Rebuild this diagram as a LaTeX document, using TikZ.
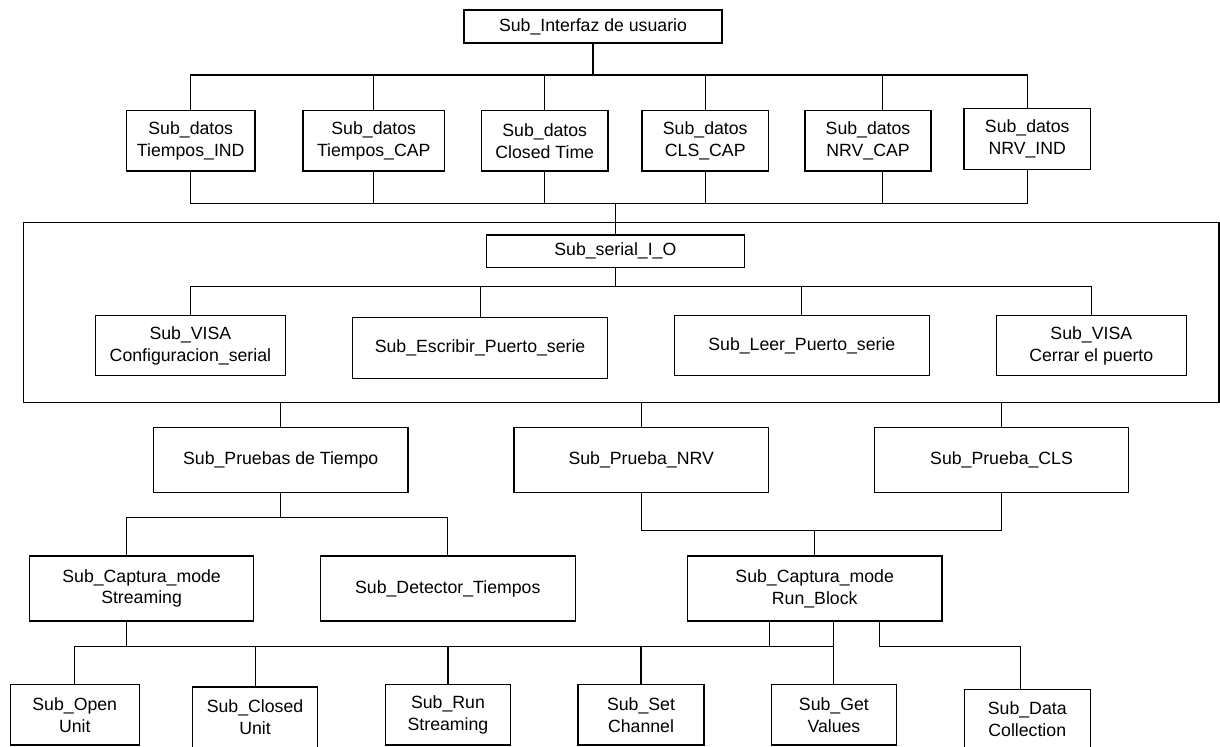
\documentclass[tikz,border=0pt]{standalone}
\usepackage{fontspec}
\setmainfont{Liberation Sans}
% box given by its corner coordinates (pixel units): name, x1, y1, x2, y2, text
\newcommand\pbox[7][]{%
  \pgfmathsetmacro\pbW{(#5-#3)*0.5}%
  \pgfmathsetmacro\pbH{(#6-#4)*0.5}%
  \pgfmathsetmacro\pbX{(#3+#5)/2}%
  \pgfmathsetmacro\pbY{(#4+#6)/2}%
  \node[blk,#1,minimum width=\pbW pt,minimum height=\pbH pt] (#2) at (\pbX,\pbY) {#7};}
\begin{document}
\begin{tikzpicture}[x=0.5pt,y=-0.5pt,
  blk/.style={draw, rectangle, line width=0.55pt, inner sep=0pt, align=center,
              font=\fontsize{8.85}{10.85}\selectfont},
  wire/.style={line width=0.55pt}]
\useasboundingbox (0,0) rectangle (1220,747);
\clip (0,0) rectangle (1220,747);

% ---- blocks ----
\pbox{top}{464}{10}{722}{43}{Sub\_Interfaz de usuario}

\pbox{d1}{126.5}{110.7}{255}{171}{Sub\_datos\\Tiempos\_IND}
\pbox{d2}{303}{110.7}{444.5}{171}{Sub\_datos\\Tiempos\_CAP}
\pbox{d3}{481.5}{110.7}{608}{171}{Sub\_datos\\Closed Time}
\pbox{d4}{642}{110.7}{768.5}{171}{Sub\_datos\\CLS\_CAP}
\pbox{d5}{805}{110.7}{931}{171}{Sub\_datos\\NRV\_CAP}
\pbox{d6}{964}{108.3}{1090.5}{169.3}{Sub\_datos\\NRV\_IND}

\pbox{frame}{23.7}{222.3}{1219}{402.3}{}
\pbox{serial}{486.4}{235}{744.3}{267.3}{Sub\_serial\_I\_O}
\pbox{v1}{95.3}{315.7}{285.5}{375.7}{Sub\_VISA\\Configuracion\_serial}
\pbox{v2}{352.7}{317.3}{607.4}{378.3}{Sub\_Escribir\_Puerto\_serie}
\pbox{v3}{674.3}{315.7}{929.4}{375.7}{Sub\_Leer\_Puerto\_serie}
\pbox{v4}{996.2}{315.7}{1186.4}{375.7}{Sub\_VISA\\Cerrar el puerto}

\pbox{p1}{153.4}{427.3}{408}{492.3}{Sub\_Pruebas de Tiempo}
\pbox{p2}{514}{427.3}{768.4}{492.3}{Sub\_Prueba\_NRV}
\pbox{p3}{874.4}{427.3}{1128.7}{492.3}{Sub\_Prueba\_CLS}

\pbox{c1}{29.7}{556}{253.5}{621}{Sub\_Captura\_mode\\Streaming}
\pbox{c2}{320.3}{556}{575.3}{621}{Sub\_Detector\_Tiempos}
\pbox{c3}{687.4}{556}{942}{621}{Sub\_Captura\_mode\\Run\_Block}

\pbox{b1}{10.3}{684.7}{139.2}{745}{Sub\_Open\\Unit}
\pbox{b2}{192.6}{687}{317.5}{747.5}{Sub\_Closed\\Unit}
\pbox{b3}{385.1}{684.7}{510.9}{745}{Sub\_Run\\Streaming}
\pbox{b4}{578}{684.7}{704}{745}{Sub\_Set\\Channel}
\pbox{b5}{771.2}{684.7}{896.6}{745}{Sub\_Get\\Values}
\pbox{b6}{964.2}{689.3}{1090.3}{749}{Sub\_Data\\Collection}

% ---- bus levels and off-centre drop points ----
\coordinate (busA) at (0,75);
\coordinate (busB) at (0,203.3);
\coordinate (busC) at (0,286.7);
\coordinate (busD) at (0,517.7);
\coordinate (busE) at (0,530.7);
\coordinate (busF) at (0,646.7);
\coordinate (d5x) at (882.3,0);
\coordinate (c1x) at (126.5,0);
\coordinate (rbL) at (769.6,0);
\coordinate (rbR) at (879.2,0);
\coordinate (dcx) at (1020.3,0);

% ---- connectors ----
\begin{scope}[wire]
% user interface to data blocks
\draw (top.south) -- (top.south |- busA);
\draw (d1.north) |- (d6.north |- busA) -- (d6.north);
\foreach \n in {d2,d3,d4} \draw (\n.north) -- (\n.north |- busA);
\draw (d5.north -| d5x) -- (d5x |- busA);
% data blocks to serial I/O
\draw (d1.south) |- (d6.south |- busB) -- (d6.south);
\foreach \n in {d2,d3,d4} \draw (\n.south) -- (\n.south |- busB);
\draw (d5.south -| d5x) -- (d5x |- busB);
\draw (serial.north) -- (serial.north |- busB);
% serial I/O children
\draw (serial.south) -- (serial.south |- busC);
\draw (v1.north) |- (v4.north |- busC) -- (v4.north);
\foreach \n in {v2,v3} \draw (\n.north) -- (\n.north |- busC);
% tests
\foreach \n in {p1,p2,p3} \draw (\n.north) -- (\n.north |- frame.south);
\draw (p1.south) -- (p1.south |- busD);
\draw (c1.north -| c1x) |- (c2.north |- busD) -- (c2.north);
\draw (p2.south) |- (p3.south |- busE) -- (p3.south);
\draw (c3.north) -- (c3.north |- busE);
% capture modes to driver calls
\draw (c1.south -| c1x) -- (c1x |- busF);
\draw (b1.north) |- (b5.north |- busF);
\foreach \n in {b2,b3,b4} \draw (\n.north) -- (\n.north |- busF);
\draw (c3.south -| rbL) -- (rbL |- busF);
\draw (c3.south -| b5.north) -- (b5.north);
\draw (c3.south -| rbR) |- (dcx |- busF) -- (b6.north -| dcx);
\end{scope}
\end{tikzpicture}
\end{document}
